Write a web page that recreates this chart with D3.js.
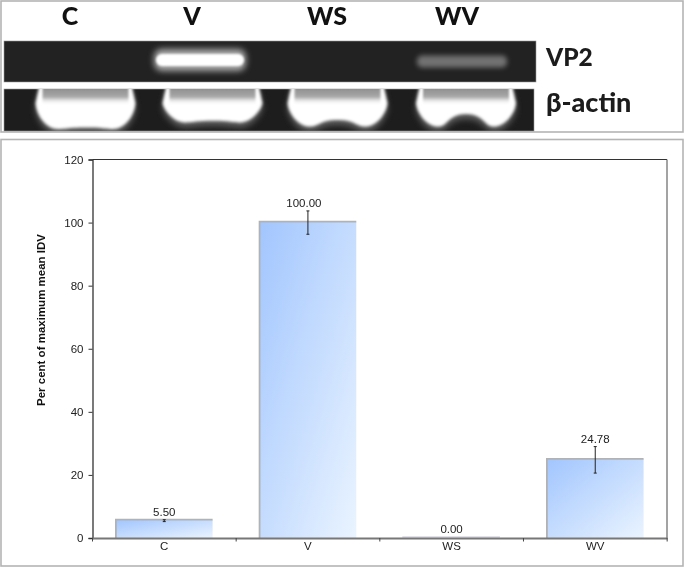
<!DOCTYPE html>
<html><head><meta charset="utf-8">
<script src="https://cdn.jsdelivr.net/npm/d3@7"></script>
<style>html,body{margin:0;padding:0;background:#fff}svg{display:block;filter:blur(0.35px)}</style>
</head><body><svg id="c" width="685" height="568"></svg>
<script>
const categories = ["C","V","WS","WV"];
const meanIDV = [5.5,100,0,24.78];
const errorIDV = [0.3,3.7,0,4.2];
const valueLabels = ["5.50","100.00","0.00","24.78"];
const yTicks = [0,20,40,60,80,100,120];
const vp2Band = [0,1,0,0.36];
const actinCorner = [0,0.55,0.2,0.2];
const actinNotch = [0.1,0.55,0.6,1];
const gelRows = ["VP2","β-actin"];

const svg = d3.select("#c");
const font = "'Liberation Sans',Arial,sans-serif";
const gelFont = "'Lato','Open Sans',sans-serif";
const defs = svg.append("defs");

const grad = defs.append("linearGradient").attr("id","barG").attr("x1","0").attr("y1","0").attr("x2","1").attr("y2","1");
grad.append("stop").attr("offset","0").attr("stop-color","#a1c5fe");
grad.append("stop").attr("offset","1").attr("stop-color","#eaf4ff");
const topG = defs.append("linearGradient").attr("id","topG").attr("x1","0").attr("y1","0").attr("x2","0").attr("y2","1");
topG.append("stop").attr("offset","0").attr("stop-color","#8c8c8c");
topG.append("stop").attr("offset","0.55").attr("stop-color","#a8a8a8");
topG.append("stop").attr("offset","1").attr("stop-color","#fff").attr("stop-opacity",0);
[["b1",1],["b3",3],["b5",4.5],["b2",2.4],["bBlob",1.5]].forEach(([id,s])=>{
  defs.append("filter").attr("id",id).attr("x","-30%").attr("y","-80%").attr("width","160%").attr("height","260%")
    .append("feGaussianBlur").attr("stdDeviation",s);
});
defs.append("clipPath").attr("id","gelClip1").append("rect").attr("x",4).attr("y",41).attr("width",532).attr("height",41);
defs.append("clipPath").attr("id","gelClip2").append("rect").attr("x",4).attr("y",89).attr("width",530).attr("height",42);

// panel frames
const frame = (y,h)=>svg.append("rect").attr("x",1).attr("y",y).attr("width",682).attr("height",h)
  .attr("fill","#fff").attr("stroke","#b4b4b4").attr("stroke-width",1.6);
frame(1,131); frame(139.5,426.5);

// gel panel
const laneLabelX = d3.scaleOrdinal(categories,[70,192,327,457]);
const laneX = d3.scaleOrdinal(categories,[83,200,338,462]);
const actinX = d3.scaleOrdinal(categories,[85.5,212.5,337.5,466]);
const cornerY = d3.scaleLinear().domain([0,1]).range([129,117]);
const notchY = d3.scaleLinear().domain([0,1]).range([129,114]);

svg.append("g").selectAll("text").data(categories).join("text")
  .attr("x",d=>laneLabelX(d)).attr("y",25).attr("text-anchor","middle")
  .attr("font-family",gelFont).attr("font-weight",900).attr("font-size",25).attr("fill","#111").text(d=>d);

svg.append("rect").attr("x",4).attr("y",41).attr("width",532).attr("height",41).attr("fill","#222").attr("stroke","#999").attr("stroke-width",0.6);
svg.append("rect").attr("x",4).attr("y",89).attr("width",530).attr("height",42).attr("fill","#1d1d1d").attr("stroke","#999").attr("stroke-width",0.6);

const g1 = svg.append("g").attr("clip-path","url(#gelClip1)");
categories.forEach((c,i)=>{
  const v = vp2Band[i]; if(!v) return;
  const cx = laneX(c), w = 92;
  if (v>0.5){
    g1.append("rect").attr("x",cx-w/2).attr("y",49).attr("width",w).attr("height",22).attr("rx",8)
      .attr("fill","#bbb").attr("opacity",0.9).attr("filter","url(#b3)");
    g1.append("rect").attr("x",cx-w/2+2).attr("y",54).attr("width",w-4).attr("height",12).attr("rx",6)
      .attr("fill","#fff").attr("filter","url(#b1)");
  } else {
    g1.append("rect").attr("x",cx-w/2+1).attr("y",55.5).attr("width",w-2).attr("height",12).attr("rx",5)
      .attr("fill","#fff").attr("opacity",v).attr("filter","url(#b2)");
  }
});

const g2 = svg.append("g").attr("clip-path","url(#gelClip2)");
categories.forEach((c,i)=>{
  const cx = actinX(c), hw = 50;
  const L = cx-hw, R = cx+hw, cy = cornerY(actinCorner[i]), ny = notchY(actinNotch[i]);
  const blob = `M${L+4},85 L${L},103 C${L+1},${cy-12} ${L+12},${cy} ${L+22},${cy}`
    + ` C${cx-18},${cy} ${cx-18},${ny} ${cx},${ny} C${cx+18},${ny} ${cx+18},${cy} ${R-22},${cy}`
    + ` C${R-12},${cy} ${R-1},${cy-12} ${R},103 L${R-4},85 Z`;
  g2.append("path").attr("d",blob).attr("transform",`translate(0,5)`).attr("fill","#777").attr("opacity",0.75).attr("filter","url(#b3)");
  g2.append("path").attr("d",blob).attr("fill","#fff").attr("filter","url(#bBlob)");
  g2.append("rect").attr("x",L+7).attr("y",87).attr("width",hw*2-14).attr("height",18)
    .attr("fill","url(#topG)").attr("filter","url(#b1)");
});

svg.append("g").selectAll("text").data(gelRows).join("text")
  .attr("x",546).attr("y",(d,i)=>[66,112][i])
  .attr("font-family",gelFont).attr("font-weight",900).attr("font-size",(d,i)=>[24.5,27][i]).attr("fill","#1c1c1c").text(d=>d);

// bar chart
const x = d3.scaleBand().domain(categories).range([92.5,667]).paddingInner(0.327).paddingOuter(0.163);
const y = d3.scaleLinear().domain([0,120]).range([538,159.5]);

svg.append("line").attr("x1",92.5).attr("x2",667).attr("y1",y(120)).attr("y2",y(120)).attr("stroke","#333").attr("stroke-width",1.2);
svg.append("line").attr("x1",667).attr("x2",667).attr("y1",y(120)).attr("y2",y(0)).attr("stroke","#666").attr("stroke-width",1.2);

const bars = svg.append("g");
bars.selectAll("rect.bar").data(categories).join("rect").attr("class","bar")
  .attr("x",d=>x(d)).attr("width",x.bandwidth())
  .attr("y",(d,i)=>y(meanIDV[i])-1).attr("height",(d,i)=>y(0)-y(meanIDV[i])+1)
  .attr("fill",(d,i)=>meanIDV[i]>0?"url(#barG)":"none");
bars.selectAll("path.edge").data(categories).join("path").attr("class","edge")
  .attr("d",(d,i)=>`M${x(d)},${y(0)}V${y(meanIDV[i])-1}H${x(d)+x.bandwidth()}`)
  .attr("fill","none").attr("stroke",(d,i)=>meanIDV[i]>0?"#b2b2b2":"#e2e0ea").attr("stroke-width",1.8);

const yAxis = svg.append("g").attr("transform","translate(92.5,0)")
  .call(d3.axisLeft(y).tickValues(yTicks).tickSize(4).tickPadding(5));
yAxis.select(".domain").attr("stroke","#333").attr("stroke-width",1.3);
yAxis.selectAll("line").attr("stroke","#333");
yAxis.selectAll("text").attr("font-family",font).attr("font-size",11.5).attr("fill","#222");

const xAxis = svg.append("g").attr("transform",`translate(0,${y(0)})`)
  .call(d3.axisBottom(x).tickSize(0).tickPadding(4));
xAxis.select(".domain").attr("stroke","#777").attr("stroke-width",1.8);
xAxis.selectAll("text").attr("font-family",font).attr("font-size",11.5).attr("fill","#222");
const step = x.step();
svg.append("g").selectAll("line").data(d3.range(5)).join("line")
  .attr("x1",i=>92.5+i*step).attr("x2",i=>92.5+i*step).attr("y1",y(0)).attr("y2",y(0)+3.5)
  .attr("stroke","#444").attr("stroke-width",1);

const errs = svg.append("g").attr("stroke","#222").attr("stroke-width",1);
categories.forEach((c,i)=>{
  if(!errorIDV[i]) return;
  const cx = x(c)+x.bandwidth()/2;
  const t = y(meanIDV[i]+errorIDV[i]), b = y(meanIDV[i]-errorIDV[i]);
  errs.append("line").attr("x1",cx).attr("x2",cx).attr("y1",t).attr("y2",b);
  errs.append("line").attr("x1",cx-1.5).attr("x2",cx+1.5).attr("y1",t).attr("y2",t);
  errs.append("line").attr("x1",cx-1.5).attr("x2",cx+1.5).attr("y1",b).attr("y2",b);
});

svg.append("g").selectAll("text").data(categories).join("text")
  .attr("x",(d,i)=>x(d)+x.bandwidth()/2+(meanIDV[i]===100?-4:0))
  .attr("y",(d,i)=>y(meanIDV[i]+errorIDV[i])-(meanIDV[i]?3.5:5))
  .attr("text-anchor","middle").attr("font-family",font).attr("font-size",11.5).attr("fill","#222")
  .text((d,i)=>valueLabels[i]);

svg.append("text").attr("transform","translate(45,320) rotate(-90)").attr("text-anchor","middle")
  .attr("font-family",font).attr("font-weight","bold").attr("font-size",11.5).attr("fill","#111")
  .text("Per cent of maximum mean IDV");
</script></body></html>
